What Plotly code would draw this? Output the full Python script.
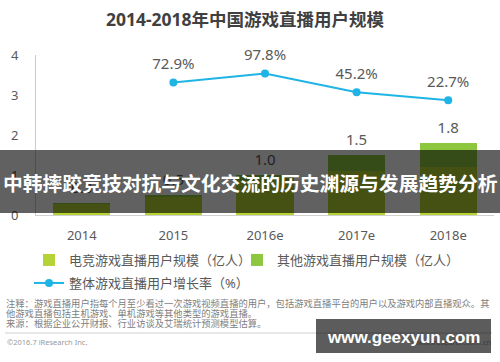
import plotly.graph_objects as go

# ---------------- data ----------------
years = ["2014", "2015", "2016e", "2017e", "2018e"]
esports_users = [0.28, 0.45, 0.85, 1.10, 1.20]   # 电竞游戏直播用户规模（亿人）
other_users = [0.02, 0.05, 0.15, 0.40, 0.60]     # 其他游戏直播用户规模（亿人）
total_users = [0.3, 0.5, 1.0, 1.5, 1.8]
growth_years = ["2015", "2016e", "2017e", "2018e"]
growth_rate = [72.9, 97.8, 45.2, 22.7]           # 整体游戏直播用户增长率（%）
y_ticks = [0, 1, 2, 3, 4]

title_text = "2014-2018年中国游戏直播用户规模"
banner_text = "中韩摔跤竞技对抗与文化交流的历史渊源与发展趋势分析"
note_lines = [
    "注释：游戏直播用户指每个月至少看过一次游戏视频直播的用户，包括游戏直播平台的用户以及游戏内部直播观众。其",
    "他游戏直播包括主机游戏、单机游戏等其他类型的游戏直播。",
    "来源：根据企业公开财报、行业访谈及艾瑞统计预测模型估算。",
]

# ---------------- style ----------------
ESPORTS_COLOR = "#b5d334"
OTHER_COLOR = "#8dc63f"
LINE_COLOR = "#1fb4e6"
TEXT_COLOR = "#595959"
FONT = "Noto Sans, Noto Sans CJK SC, sans-serif"

W, H = 500, 362
L, R, T, B = 36, 6, 55, 147
PW, PH = W - L - R, H - T - B


def px(x):
    return (x - L) / PW


def py(y):
    return (H - B - y) / PH


fig = go.Figure()

fig.add_trace(go.Bar(
    x=years, y=esports_users, name="电竞游戏直播用户规模（亿人）",
    marker=dict(color=ESPORTS_COLOR, line=dict(width=0)), legend="legend",
    hoverinfo="skip",
))
fig.add_trace(go.Bar(
    x=years, y=other_users, name="其他游戏直播用户规模（亿人）",
    marker=dict(color=OTHER_COLOR, line=dict(width=0)), legend="legend2",
    hoverinfo="skip",
))
# total labels above bars
fig.add_trace(go.Scatter(
    x=years, y=total_users, mode="markers+text",
    text=[f"{v:.1f}" for v in total_users], textposition="top center",
    textfont=dict(size=15, color=TEXT_COLOR, family=FONT),
    marker=dict(size=8, color="rgba(0,0,0,0)"), showlegend=False, hoverinfo="skip",
    cliponaxis=False,
))
fig.add_trace(go.Scatter(
    x=growth_years, y=growth_rate, yaxis="y2", mode="lines+markers",
    name="整体游戏直播用户增长率（%）",
    line=dict(color=LINE_COLOR, width=2), marker=dict(color=LINE_COLOR, size=8),
    legend="legend3", hoverinfo="skip", cliponaxis=False,
))
fig.add_trace(go.Scatter(
    x=growth_years, y=growth_rate, yaxis="y2", mode="markers+text",
    text=[f"{v}%" for v in growth_rate], textposition="top center",
    textfont=dict(size=15, color=TEXT_COLOR, family=FONT),
    marker=dict(size=14, color="rgba(0,0,0,0)"), showlegend=False, hoverinfo="skip",
    cliponaxis=False,
))

legend_common = dict(
    bgcolor="rgba(0,0,0,0)", font=dict(size=13, color=TEXT_COLOR, family=FONT),
    xanchor="left", yanchor="middle", borderwidth=0,
)

shapes = [
    dict(type="rect", xref="paper", yref="paper", x0=px(0), x1=px(500),
         y0=py(213), y1=py(150), fillcolor="rgba(0,0,0,0.62)", line=dict(width=0),
         layer="above"),
    dict(type="line", xref="paper", yref="paper", x0=px(5), x1=px(492),
         y0=py(333), y1=py(333), line=dict(color="#d0d0d0", width=1)),
    dict(type="rect", xref="paper", yref="paper", x0=px(316), x1=px(491),
         y0=py(353), y1=py(319), fillcolor="rgba(0,0,0,0.64)", line=dict(width=0),
         layer="above"),
]

annotations = [
    dict(text=f"<b>{banner_text}</b>", xref="paper", yref="paper", x=px(250), y=py(182),
         xanchor="center", yanchor="middle", showarrow=False,
         font=dict(size=19.8, color="white", family="Noto Sans CJK SC")),
    dict(text="©2016.7 iResearch Inc.", xref="paper", yref="paper", x=px(5), y=py(342),
         xanchor="left", yanchor="middle", showarrow=False,
         font=dict(size=7.5, color="#9a9a9a", family=FONT)),
    dict(text="www.iresearch.com.cn", xref="paper", yref="paper", x=px(493), y=py(342),
         xanchor="right", yanchor="middle", showarrow=False,
         font=dict(size=7.5, color="#3a3a3a", family=FONT)),
    dict(text="<b>www.geexyun.com</b>", xref="paper", yref="paper", x=px(403), y=py(337),
         xanchor="center", yanchor="middle", showarrow=False,
         font=dict(size=17, color="white", family="Liberation Sans")),
]
for i, line in enumerate(note_lines):
    annotations.append(dict(
        text=line, xref="paper", yref="paper", x=px(4), y=py(303 + 10 * i),
        xanchor="left", yanchor="middle", showarrow=False,
        font=dict(size=9.3, color="#808080", family=FONT)))

fig.update_layout(
    width=W, height=H,
    margin=dict(l=L, r=R, t=T, b=B, autoexpand=False),
    paper_bgcolor="white", plot_bgcolor="white",
    font=dict(family=FONT, color=TEXT_COLOR),
    barmode="stack", bargap=0.377,
    hovermode=False,
    title=dict(text=f"<b>{title_text}</b>", x=245 / W, xanchor="center",
               y=1 - 20 / H, yanchor="middle", yref="container",
               font=dict(size=17.5, color="#404040", family=FONT)),
    xaxis=dict(type="category", range=[-0.5, 4.5], showline=True, linecolor="#d0d0d0",
               linewidth=1, ticks="outside", ticklen=8, tickcolor="rgba(0,0,0,0)",
               tickfont=dict(size=13, color=TEXT_COLOR), showgrid=False, fixedrange=True),
    yaxis=dict(range=[0, 4], tickvals=y_ticks, showgrid=False, zeroline=False,
               showline=True, linecolor="#cccccc", linewidth=1, ticks="outside",
               ticklen=14, tickcolor="rgba(0,0,0,0)",
               tickfont=dict(size=13, color=TEXT_COLOR), fixedrange=True),
    yaxis2=dict(range=[-300, 150], overlaying="y", visible=False, fixedrange=True),
    legend=dict(x=px(29), y=py(260), **legend_common),
    legend2=dict(x=px(237), y=py(260), **legend_common),
    legend3=dict(x=px(29), y=py(283), **legend_common),
    shapes=shapes,
    annotations=annotations,
)

fig.write_html(
    "out.html",
    config={"displayModeBar": False},
    post_script="document.body.style.margin='0';document.body.style.overflow='hidden';",
)
